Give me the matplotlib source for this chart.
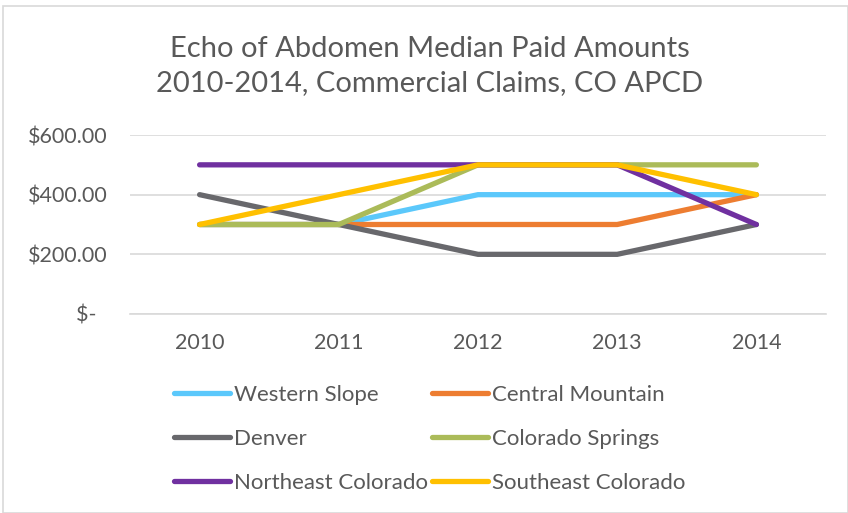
import matplotlib
matplotlib.use("Agg")
import matplotlib.pyplot as plt
from matplotlib.patches import Rectangle

years = ["2010", "2011", "2012", "2013", "2014"]
series_names = ["Western Slope", "Central Mountain", "Denver",
                "Colorado Springs", "Northeast Colorado", "Southeast Colorado"]
western_slope = [300, 300, 400, 400, 400]
central_mountain = [300, 300, 300, 300, 400]
denver = [400, 300, 200, 200, 300]
colorado_springs = [300, 300, 500, 500, 500]
northeast_colorado = [500, 500, 500, 500, 300]
southeast_colorado = [300, 400, 500, 500, 400]
series_values = [western_slope, central_mountain, denver,
                 colorado_springs, northeast_colorado, southeast_colorado]
colors = ["#5bc8fb", "#ed7d31", "#68686c", "#abbb59", "#7030a0", "#ffc000"]
yticks = [0, 200, 400, 600]
ytick_labels = ["$-  ", "$200.00", "$400.00", "$600.00"]

plt.rcParams['font.family'] = ['Lato', 'DejaVu Sans']
W, H = 848, 513
fig = plt.figure(figsize=(W / 100, H / 100), dpi=100)

# light border
fig.patches.append(Rectangle((3 / W, 0), 1 - 3 / W, 1 - 5 / H - 0.001,
                             transform=fig.transFigure, fill=False,
                             edgecolor="#d9d9d9", linewidth=1.2))

ax = fig.add_axes([130 / W, (H - 314) / H, (826 - 130) / W, (314 - 135) / H])
x = list(range(len(years)))
lines = []
for name, vals, c in zip(series_names, series_values, colors):
    ln, = ax.plot(x, vals, color=c, linewidth=3.8, solid_capstyle="round",
                  solid_joinstyle="round", label=name)
    lines.append(ln)

ax.set_xlim(-0.5, len(years) - 0.5)
ax.set_ylim(0, 600)
ax.set_xticks(x)
ax.set_xticklabels(years)
ax.set_yticks(yticks)
ax.set_yticklabels(ytick_labels)
ax.yaxis.grid(True, color="#d9d9d9", linewidth=1.2)
ax.set_axisbelow(True)
for s in ["top", "right", "left"]:
    ax.spines[s].set_visible(False)
ax.spines["bottom"].set_color("#d9d9d9")
ax.spines["bottom"].set_linewidth(1.2)
ax.tick_params(axis="both", length=0, labelsize=15.5, colors="#595959")
ax.tick_params(axis="x", pad=14)
ax.tick_params(axis="y", pad=16)

fig.text(0.507, (H - 66) / H, "Echo of Abdomen Median Paid Amounts\n2010-2014, Commercial Claims, CO APCD",
         ha="center", va="center", fontsize=21, color="#595959", linespacing=1.4)

# row-major legend order (matplotlib fills column-major)
order = [0, 2, 4, 1, 3, 5]
leg = fig.legend([lines[i] for i in order], [series_names[i] for i in order],
                 loc="center", bbox_to_anchor=(0.507, (H - 439) / H), ncol=2,
                 frameon=False, fontsize=16, handlelength=2.5, handletextpad=0.2,
                 columnspacing=0.2, labelspacing=1.07)
for t in leg.get_texts():
    t.set_color("#595959")

fig.savefig("out.png", dpi=100)
